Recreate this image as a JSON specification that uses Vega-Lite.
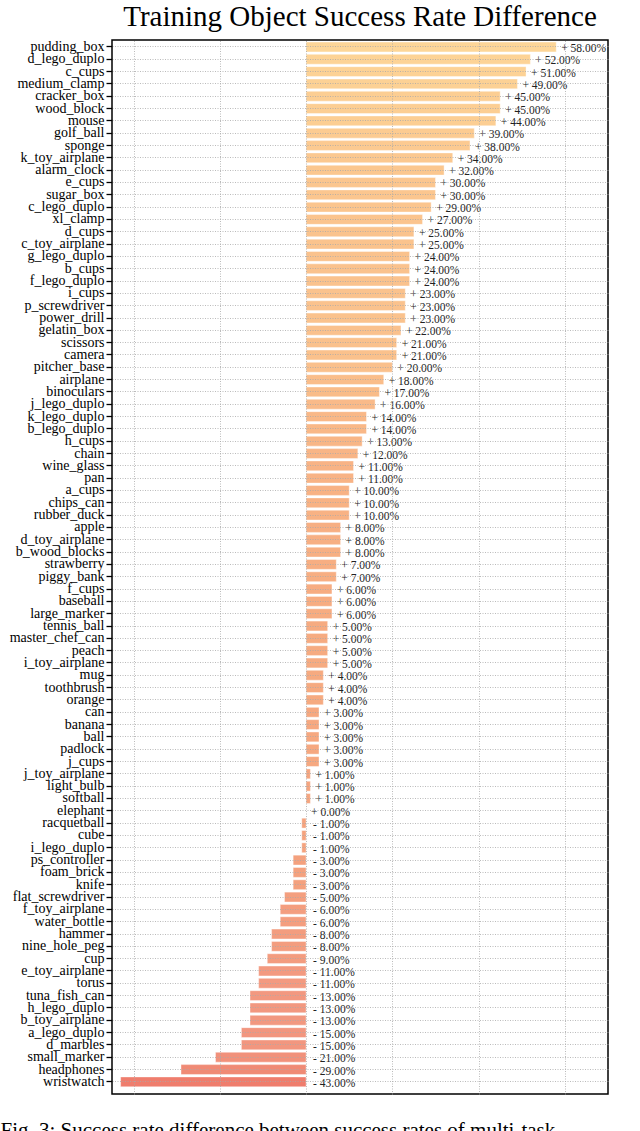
{
  "$schema": "https://vega.github.io/schema/vega-lite/v6.json",
  "autosize": {"type": "none"},
  "width": 496,
  "height": 1054,
  "padding": {"left": 112, "top": 40, "right": 32, "bottom": 37},
  "background": "white",
  "config": {
    "view": {"stroke": "black", "strokeWidth": 1.5},
    "font": "Liberation Serif"
  },
  "title": {
    "text": "Training Object Success Rate Difference",
    "font": "Liberation Serif",
    "fontSize": 29,
    "fontWeight": "normal",
    "color": "black",
    "anchor": "middle",
    "offset": 7
  },
  "data": {
    "values": [
      {"name": "pudding_box", "v": 58, "label": "+ 58.00%"},
      {"name": "d_lego_duplo", "v": 52, "label": "+ 52.00%"},
      {"name": "c_cups", "v": 51, "label": "+ 51.00%"},
      {"name": "medium_clamp", "v": 49, "label": "+ 49.00%"},
      {"name": "cracker_box", "v": 45, "label": "+ 45.00%"},
      {"name": "wood_block", "v": 45, "label": "+ 45.00%"},
      {"name": "mouse", "v": 44, "label": "+ 44.00%"},
      {"name": "golf_ball", "v": 39, "label": "+ 39.00%"},
      {"name": "sponge", "v": 38, "label": "+ 38.00%"},
      {"name": "k_toy_airplane", "v": 34, "label": "+ 34.00%"},
      {"name": "alarm_clock", "v": 32, "label": "+ 32.00%"},
      {"name": "e_cups", "v": 30, "label": "+ 30.00%"},
      {"name": "sugar_box", "v": 30, "label": "+ 30.00%"},
      {"name": "c_lego_duplo", "v": 29, "label": "+ 29.00%"},
      {"name": "xl_clamp", "v": 27, "label": "+ 27.00%"},
      {"name": "d_cups", "v": 25, "label": "+ 25.00%"},
      {"name": "c_toy_airplane", "v": 25, "label": "+ 25.00%"},
      {"name": "g_lego_duplo", "v": 24, "label": "+ 24.00%"},
      {"name": "b_cups", "v": 24, "label": "+ 24.00%"},
      {"name": "f_lego_duplo", "v": 24, "label": "+ 24.00%"},
      {"name": "i_cups", "v": 23, "label": "+ 23.00%"},
      {"name": "p_screwdriver", "v": 23, "label": "+ 23.00%"},
      {"name": "power_drill", "v": 23, "label": "+ 23.00%"},
      {"name": "gelatin_box", "v": 22, "label": "+ 22.00%"},
      {"name": "scissors", "v": 21, "label": "+ 21.00%"},
      {"name": "camera", "v": 21, "label": "+ 21.00%"},
      {"name": "pitcher_base", "v": 20, "label": "+ 20.00%"},
      {"name": "airplane", "v": 18, "label": "+ 18.00%"},
      {"name": "binoculars", "v": 17, "label": "+ 17.00%"},
      {"name": "j_lego_duplo", "v": 16, "label": "+ 16.00%"},
      {"name": "k_lego_duplo", "v": 14, "label": "+ 14.00%"},
      {"name": "b_lego_duplo", "v": 14, "label": "+ 14.00%"},
      {"name": "h_cups", "v": 13, "label": "+ 13.00%"},
      {"name": "chain", "v": 12, "label": "+ 12.00%"},
      {"name": "wine_glass", "v": 11, "label": "+ 11.00%"},
      {"name": "pan", "v": 11, "label": "+ 11.00%"},
      {"name": "a_cups", "v": 10, "label": "+ 10.00%"},
      {"name": "chips_can", "v": 10, "label": "+ 10.00%"},
      {"name": "rubber_duck", "v": 10, "label": "+ 10.00%"},
      {"name": "apple", "v": 8, "label": "+ 8.00%"},
      {"name": "d_toy_airplane", "v": 8, "label": "+ 8.00%"},
      {"name": "b_wood_blocks", "v": 8, "label": "+ 8.00%"},
      {"name": "strawberry", "v": 7, "label": "+ 7.00%"},
      {"name": "piggy_bank", "v": 7, "label": "+ 7.00%"},
      {"name": "f_cups", "v": 6, "label": "+ 6.00%"},
      {"name": "baseball", "v": 6, "label": "+ 6.00%"},
      {"name": "large_marker", "v": 6, "label": "+ 6.00%"},
      {"name": "tennis_ball", "v": 5, "label": "+ 5.00%"},
      {"name": "master_chef_can", "v": 5, "label": "+ 5.00%"},
      {"name": "peach", "v": 5, "label": "+ 5.00%"},
      {"name": "i_toy_airplane", "v": 5, "label": "+ 5.00%"},
      {"name": "mug", "v": 4, "label": "+ 4.00%"},
      {"name": "toothbrush", "v": 4, "label": "+ 4.00%"},
      {"name": "orange", "v": 4, "label": "+ 4.00%"},
      {"name": "can", "v": 3, "label": "+ 3.00%"},
      {"name": "banana", "v": 3, "label": "+ 3.00%"},
      {"name": "ball", "v": 3, "label": "+ 3.00%"},
      {"name": "padlock", "v": 3, "label": "+ 3.00%"},
      {"name": "j_cups", "v": 3, "label": "+ 3.00%"},
      {"name": "j_toy_airplane", "v": 1, "label": "+ 1.00%"},
      {"name": "light_bulb", "v": 1, "label": "+ 1.00%"},
      {"name": "softball", "v": 1, "label": "+ 1.00%"},
      {"name": "elephant", "v": 0, "label": "+ 0.00%"},
      {"name": "racquetball", "v": -1, "label": "- 1.00%"},
      {"name": "cube", "v": -1, "label": "- 1.00%"},
      {"name": "i_lego_duplo", "v": -1, "label": "- 1.00%"},
      {"name": "ps_controller", "v": -3, "label": "- 3.00%"},
      {"name": "foam_brick", "v": -3, "label": "- 3.00%"},
      {"name": "knife", "v": -3, "label": "- 3.00%"},
      {"name": "flat_screwdriver", "v": -5, "label": "- 5.00%"},
      {"name": "f_toy_airplane", "v": -6, "label": "- 6.00%"},
      {"name": "water_bottle", "v": -6, "label": "- 6.00%"},
      {"name": "hammer", "v": -8, "label": "- 8.00%"},
      {"name": "nine_hole_peg", "v": -8, "label": "- 8.00%"},
      {"name": "cup", "v": -9, "label": "- 9.00%"},
      {"name": "e_toy_airplane", "v": -11, "label": "- 11.00%"},
      {"name": "torus", "v": -11, "label": "- 11.00%"},
      {"name": "tuna_fish_can", "v": -13, "label": "- 13.00%"},
      {"name": "h_lego_duplo", "v": -13, "label": "- 13.00%"},
      {"name": "b_toy_airplane", "v": -13, "label": "- 13.00%"},
      {"name": "a_lego_duplo", "v": -15, "label": "- 15.00%"},
      {"name": "d_marbles", "v": -15, "label": "- 15.00%"},
      {"name": "small_marker", "v": -21, "label": "- 21.00%"},
      {"name": "headphones", "v": -29, "label": "- 29.00%"},
      {"name": "wristwatch", "v": -43, "label": "- 43.00%"}
    ]
  },
  "encoding": {
    "y": {
      "field": "name",
      "type": "nominal",
      "sort": null,
      "scale": {"paddingInner": 0.2, "paddingOuter": 0.375, "align": 0.22},
      "axis": {
        "title": null,
        "zindex": 1,
        "bandPosition": 0.5,
        "domain": false,
        "grid": true,
        "gridColor": "#aaaaaa",
        "gridDash": [1, 1.5],
        "gridWidth": 0.8,
        "gridOpacity": 1,
        "ticks": true,
        "tickColor": "black",
        "tickWidth": 1.3,
        "tickSize": 6,
        "labelFont": "Liberation Serif",
        "labelFontSize": 14,
        "labelColor": "black",
        "labelPadding": 2,
        "labelLimit": 200
      }
    },
    "x": {
      "field": "v",
      "type": "quantitative",
      "scale": {"domain": [-45, 70], "nice": false, "zero": true},
      "axis": {
        "zindex": 1,
        "values": [-40, -20, 0, 20, 40, 60],
        "grid": true,
        "gridColor": "#aaaaaa",
        "gridDash": [1, 1.5],
        "gridWidth": 0.8,
        "gridOpacity": 1,
        "ticks": false,
        "labels": false,
        "domain": false,
        "title": "Fig. 3: Success rate difference between success rates of multi-task",
        "titleFont": "Liberation Serif",
        "titleFontSize": 21,
        "titleFontWeight": "normal",
        "titleColor": "black",
        "titleAnchor": "start",
        "titleAlign": "left",
        "titleBaseline": "top",
        "titleX": -112,
        "titleY": 25
      }
    }
  },
  "layer": [
    {
      "mark": {"type": "bar", "stroke": "white", "strokeWidth": 0.4},
      "encoding": {
        "color": {
          "field": "v",
          "type": "quantitative",
          "legend": null,
          "scale": {
            "domain": [-43, -13, 0, 20, 58],
            "range": ["#ef7d6d", "#f29880", "#f5a47e", "#fac08c", "#fdd698"]
          }
        }
      }
    },
    {
      "transform": [{"filter": "datum.v >= 0"}],
      "mark": {"type": "text", "align": "left", "baseline": "middle", "dx": 5, "dy": 2, "font": "Liberation Serif", "fontSize": 11.5, "color": "#222222"},
      "encoding": {"text": {"field": "label"}}
    },
    {
      "transform": [{"filter": "datum.v < 0"}],
      "mark": {"type": "text", "align": "left", "baseline": "middle", "dx": 7, "dy": 2, "font": "Liberation Serif", "fontSize": 11.5, "color": "#222222"},
      "encoding": {"x": {"datum": 0}, "text": {"field": "label"}}
    }
  ]
}
